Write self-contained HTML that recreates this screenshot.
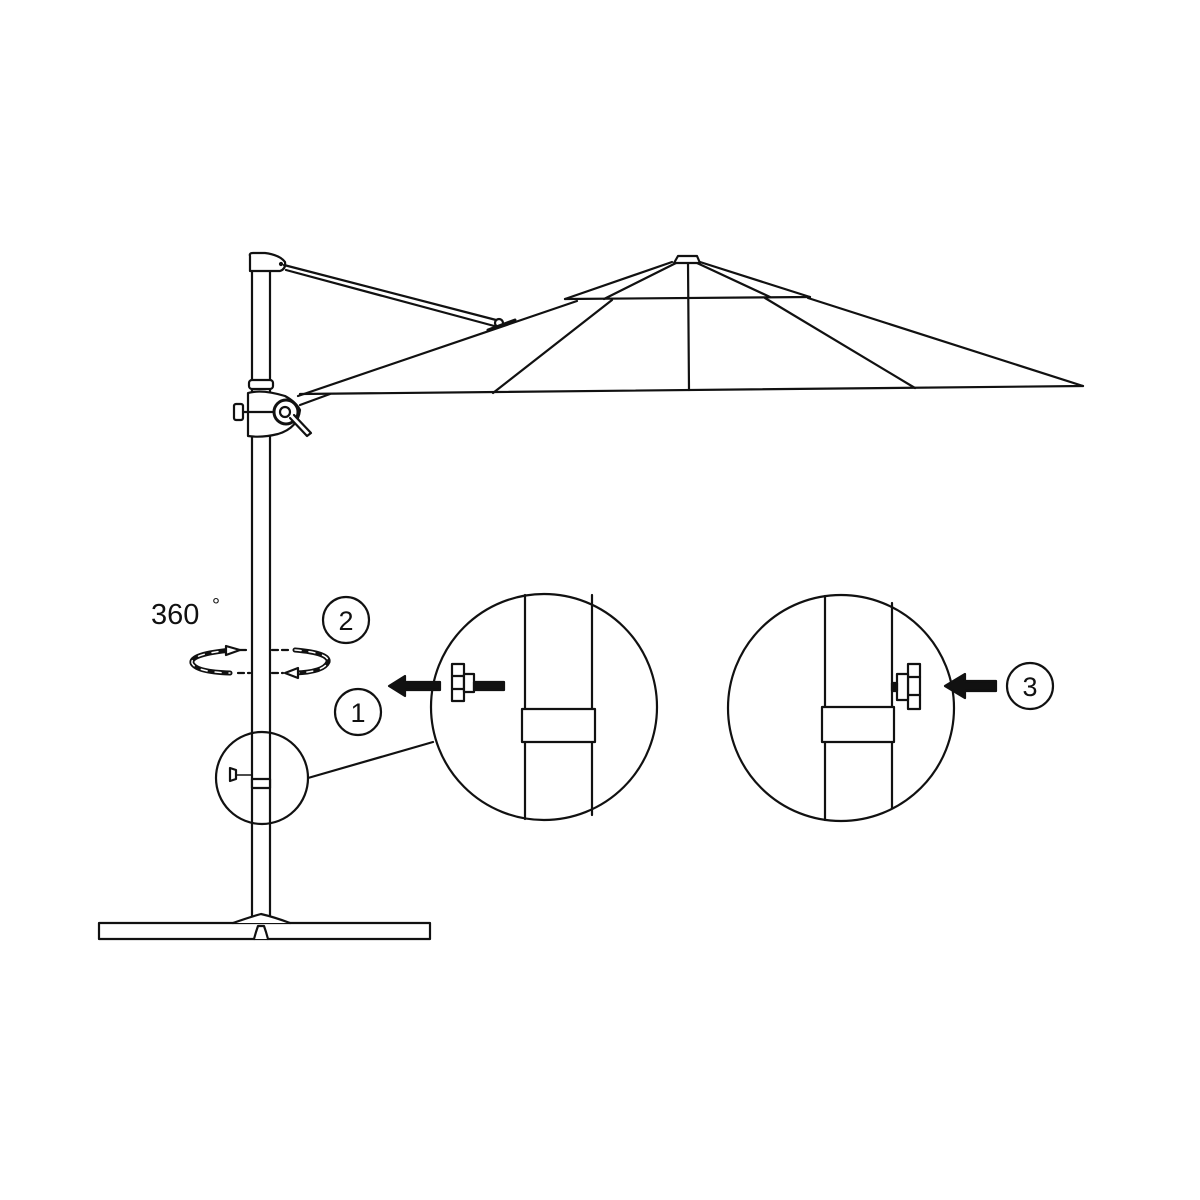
<!DOCTYPE html>
<html><head><meta charset="utf-8"><style>html,body{margin:0;padding:0;background:#fff}svg{display:block}</style></head>
<body>
<svg width="1200" height="1200" viewBox="0 0 1200 1200" xmlns="http://www.w3.org/2000/svg">
<rect width="1200" height="1200" fill="#fff"/>
<g fill="none" stroke="#111" stroke-width="2.2" stroke-linejoin="round" stroke-linecap="round">
<!-- pole -->
<line x1="252" y1="270" x2="252" y2="920"/>
<line x1="270" y1="270" x2="270" y2="920"/>
<!-- top head -->
<path d="M250 256 Q249 253 253 253 L265 253 Q280 255 285 262 Q286 269 280 271 L250 271 Z" fill="#fff"/>
<circle cx="281" cy="264" r="1" fill="#111"/>
<!-- strut -->
<line x1="284" y1="265" x2="500" y2="321"/>
<line x1="286" y1="270" x2="498" y2="327"/>
<circle cx="499" cy="323" r="4" fill="#fff"/>
<path d="M488 330 L515 320" stroke-width="3"/>
<!-- collar -->
<rect x="249" y="380" width="24" height="9" rx="3" fill="#fff"/>
<!-- hub -->
<path d="M248 393 Q262 389 285 396 Q296 402 300 410 Q298 428 278 434 Q262 438 248 436 Z" fill="#fff"/>
<rect x="234" y="404" width="9" height="16" rx="2" fill="#fff"/>
<line x1="243" y1="412" x2="248" y2="412"/>
<line x1="248" y1="412" x2="275" y2="412"/>
<circle cx="286" cy="412" r="12" fill="#fff" stroke-width="3"/>
<circle cx="285" cy="412" r="5"/>
<path d="M290 418 L307 436 L311 433 L294 415" fill="#fff"/>
<!-- canopy -->
<line x1="298" y1="396" x2="577" y2="301"/>
<line x1="300" y1="394" x2="1083" y2="386"/>
<line x1="808" y1="298" x2="1083" y2="386"/>
<line x1="300" y1="405" x2="330" y2="394"/>
<!-- ribs -->
<line x1="612" y1="300" x2="493" y2="393"/>
<line x1="688" y1="263" x2="689" y2="390"/>
<line x1="765" y1="298" x2="915" y2="388"/>
<!-- vent -->
<line x1="565" y1="299" x2="810" y2="297"/>
<line x1="672" y1="262" x2="565" y2="299"/>
<line x1="676" y1="263" x2="604" y2="299"/>
<line x1="700" y1="262" x2="810" y2="297"/>
<line x1="697" y1="263" x2="770" y2="297"/>
<path d="M674 263 L678 256 L697 256 L700 263 Z" fill="#fff"/>
<!-- rotation arrows -->
<path d="M232 650 Q190 654 192 663 Q196 672 230 673" stroke-width="5"/>
<path d="M232 650 Q190 654 192 663 Q196 672 230 673" stroke="#fff" stroke-width="1.5" stroke-dasharray="6 8"/>
<path d="M226 646 L240 650 L226 655 Z" fill="#fff"/>
<path d="M295 650 Q330 653 328 662 Q324 672 295 673" stroke-width="5"/>
<path d="M295 650 Q330 653 328 662 Q324 672 295 673" stroke="#fff" stroke-width="1.5" stroke-dasharray="6 8"/>
<path d="M298 668 L285 673 L298 678 Z" fill="#fff"/>
<line x1="240" y1="650" x2="250" y2="650" stroke-dasharray="6 4"/>
<line x1="272" y1="650" x2="290" y2="650" stroke-dasharray="6 4"/>
<line x1="238" y1="673" x2="250" y2="673" stroke-dasharray="6 4"/>
<line x1="272" y1="673" x2="283" y2="673" stroke-dasharray="6 4"/>
<!-- numbered circles -->
<circle cx="346" cy="620" r="23"/>
<circle cx="358" cy="712" r="23"/>
<circle cx="1030" cy="686" r="23"/>
<!-- small circle -->
<circle cx="262" cy="778" r="46"/>
<rect x="252" y="779" width="18" height="9" fill="#fff"/>
<path d="M230 768 L230 781 L236 779 L236 770 Z" fill="#fff"/>
<line x1="236" y1="775" x2="252" y2="775" stroke-width="1.5"/>
<line x1="308" y1="778" x2="433" y2="742"/>
<!-- big circle left -->
<circle cx="544" cy="707" r="113"/>
<line x1="525" y1="595" x2="525" y2="819"/>
<line x1="592" y1="595" x2="592" y2="815"/>
<rect x="522" y="709" width="73" height="33" fill="#fff"/>
<rect x="452" y="664" width="12" height="37" fill="#fff"/>
<line x1="452" y1="676" x2="464" y2="676"/>
<line x1="452" y1="689" x2="464" y2="689"/>
<rect x="464" y="674" width="10" height="18" fill="#fff"/>
<rect x="474" y="682" width="30" height="8" fill="#111"/>
<path d="M440 682 L405 682 L405 676 L389 686 L405 696 L405 690 L440 690 Z" fill="#111"/>
<!-- big circle right -->
<circle cx="841" cy="708" r="113"/>
<line x1="825" y1="596" x2="825" y2="820"/>
<line x1="892" y1="603" x2="892" y2="808"/>
<rect x="822" y="707" width="72" height="35" fill="#fff"/>
<rect x="908" y="664" width="12" height="45" fill="#fff"/>
<line x1="908" y1="677" x2="920" y2="677"/>
<line x1="908" y1="695" x2="920" y2="695"/>
<rect x="897" y="674" width="11" height="26" fill="#fff"/>
<rect x="892" y="683" width="5" height="8" fill="#111"/>
<path d="M996 681 L965 681 L965 674 L945 686 L965 698 L965 691 L996 691 Z" fill="#111"/>
<!-- base -->
<rect x="99" y="923" width="331" height="16" fill="#fff"/>
<path d="M233 923 Q250 917 261 914 Q274 917 290 923" fill="#fff"/>
<path d="M254 939 L256 932 L258 926 L264 926 L266 932 L268 939" fill="#fff"/>
</g>
<g font-family="'Liberation Sans', 'DejaVu Sans', sans-serif" fill="#111">
<text x="151" y="624" font-size="29">360</text>
<text x="212" y="612" font-size="20">°</text>
<text x="346" y="630" font-size="27" text-anchor="middle">2</text>
<text x="358" y="722" font-size="27" text-anchor="middle">1</text>
<text x="1030" y="696" font-size="27" text-anchor="middle">3</text>
</g>
</svg>
</body></html>
